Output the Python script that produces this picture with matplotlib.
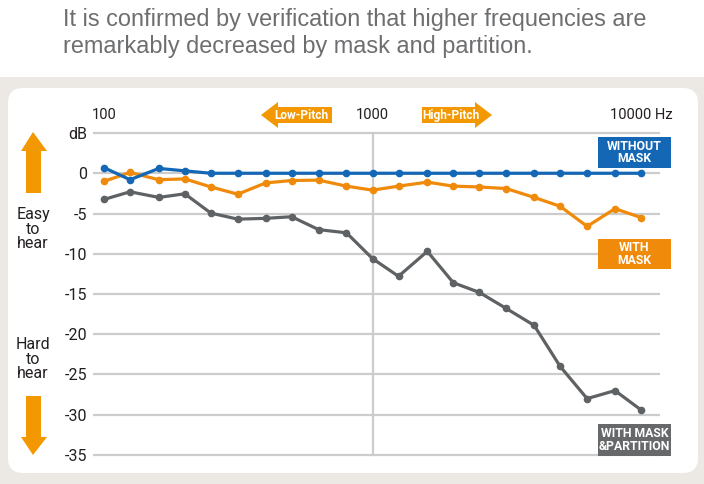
import matplotlib
matplotlib.use('Agg')
import matplotlib.pyplot as plt
from matplotlib.patches import FancyBboxPatch, Rectangle, Polygon

# 1/3 octave bands, dB relative to no mask
freqs = [100, 125, 160, 200, 250, 315, 400, 500, 630, 800, 1000,
         1250, 1600, 2000, 2500, 3150, 4000, 5000, 6300, 8000, 10000]
without_mask = [0.7, -0.8, 0.6, 0.3, 0, 0, 0, 0, 0, 0, 0,
                0, 0, 0, 0, 0, 0, 0, 0, 0, 0]
with_mask = [-1.0, 0.1, -0.8, -0.7, -1.7, -2.6, -1.2, -0.9, -0.85, -1.6, -2.1,
             -1.6, -1.1, -1.6, -1.7, -1.9, -3.0, -4.1, -6.6, -4.4, -5.5]
with_partition = [-3.25, -2.3, -3.0, -2.55, -4.95, -5.7, -5.6, -5.4, -7.0, -7.4, -10.6,
                  -12.8, -9.7, -13.6, -14.8, -16.8, -18.9, -24.0, -28.0, -27.0, -29.4]

y_ticks = [5, 0, -5, -10, -15, -20, -25, -30, -35]
y_labels = ['dB', '0', '-5', '-10', '-15', '-20', '-25', '-30', '-35']
x_ticks = [100, 1000, 10000]
x_labels = ['100', '1000', '10000 Hz']

title = ('It is confirmed by verification that higher frequencies are\n'
         'remarkably decreased by mask and partition.')

blue = '#1467b4'
orange = '#ef8a0a'
gray = '#5f6264'
arrow_col = '#f39800'
txt_col = '#231f20'

fig = plt.figure(figsize=(7.04, 4.84), dpi=100)

# background in pixel coordinates
bg = fig.add_axes([0, 0, 1, 1], zorder=-1)
bg.set_xlim(0, 704)
bg.set_ylim(484, 0)
bg.axis('off')
bg.add_patch(Rectangle((0, 77), 704, 407, color='#ece9e4', lw=0))
bg.add_patch(FancyBboxPatch((8, 88), 690, 385, boxstyle='round,pad=0,rounding_size=15',
                            fc='white', ec='none'))
bg.text(63, 33, title, ha='left', va='center', fontsize=16.9, color='#6d6e70',
        family='Liberation Sans', linespacing=1.25)

# big arrows on the left
bg.add_patch(Polygon([(33, 132), (47, 151), (41, 151), (41, 193), (26, 193), (26, 151), (21, 151)],
                     color=arrow_col, lw=0))
bg.add_patch(Polygon([(33, 455), (47, 437), (41, 437), (41, 396), (26, 396), (26, 437), (21, 437)],
                     color=arrow_col, lw=0))
bg.text(33, 229, 'Easy\nto\nhear', ha='center', va='center', fontsize=11.5,
        color=txt_col, family='Roboto', linespacing=0.95)
bg.text(33, 359, 'Hard\nto\nhear', ha='center', va='center', fontsize=11.5,
        color=txt_col, family='Roboto', linespacing=0.95)

# pitch arrows
bg.add_patch(Polygon([(261, 115), (278, 102), (278, 107), (332, 107), (332, 123), (278, 123), (278, 128)],
                     color=arrow_col, lw=0))
bg.text(301, 115.5, 'Low-Pitch', ha='center', va='center', fontsize=8.6, color='white',
        weight='bold', family='Roboto')
bg.add_patch(Polygon([(492, 115), (475, 102), (475, 107), (422, 107), (422, 123), (475, 123), (475, 128)],
                     color=arrow_col, lw=0))
bg.text(451, 115.5, 'High-Pitch', ha='center', va='center', fontsize=8.6, color='white',
        weight='bold', family='Roboto')

# chart axes
px_dec = 268.5
ax = fig.add_axes([93 / 704, 25 / 484, 567 / 704, 330 / 484])
ax.patch.set_alpha(0)
ax.set_xscale('log')
ax.set_xlim(100 * 10 ** (-(104 - 93) / px_dec), 10000 * 10 ** ((660 - 641) / px_dec))
ax.set_ylim(-35.5, 5.5)
for s in ax.spines.values():
    s.set_visible(False)
ax.set_yticks(y_ticks)
ax.set_yticklabels(y_labels, family='Roboto', fontsize=11.5, color=txt_col)
ax.tick_params(axis='y', length=0, pad=4)
ax.yaxis.grid(True, color='#cccccc', lw=1.6)
ax.set_axisbelow(True)
ax.minorticks_off()
ax.set_xticks([])
for xv, lab in zip(x_ticks, x_labels):
    ax.text(xv, 7.3, lab, ha='center', va='center', fontsize=10.5, color=txt_col,
            family='Roboto', clip_on=False)
ax.plot([1000, 1000], [5, -35], color='#cccccc', lw=1.6, zorder=1)

ax.plot(freqs, with_partition, color=gray, lw=2.3, marker='o', ms=4.5, zorder=3)
ax.plot(freqs, with_mask, color=orange, lw=2.3, marker='o', ms=4.5, zorder=4)
ax.plot(freqs, without_mask, color=blue, lw=2.3, marker='o', ms=4.5, zorder=5)

# series labels
for (y0, y1, col, lab) in [(137, 168, blue, 'WITHOUT\nMASK'),
                           (239, 269, orange, 'WITH\nMASK'),
                           (424, 456, '#66686a', 'WITH MASK\n&PARTITION')]:
    fig.add_artist(Rectangle((598, y0), 73, y1 - y0, color=col, lw=0,
                             transform=bg.transData, zorder=5))
    fig.text(634.5 / 704, 1 - (y0 + y1) / 2 / 484, lab, ha='center', va='center',
             fontsize=8.8, color='white', weight='bold', family='Roboto',
             linespacing=0.95, zorder=6)

fig.savefig('out.png', dpi=100)
